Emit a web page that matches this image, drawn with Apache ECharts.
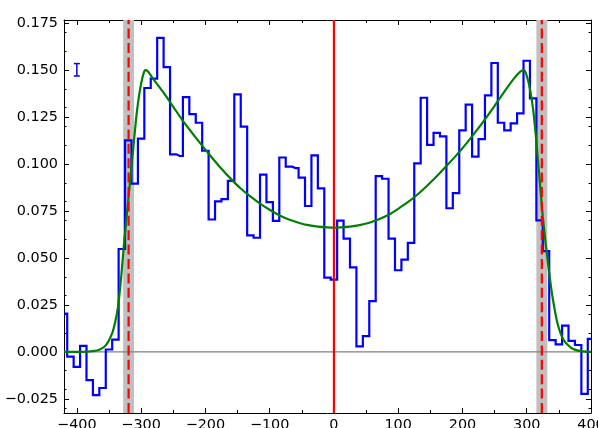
<!DOCTYPE html>
<html><head><meta charset="utf-8">
<script src="https://cdn.jsdelivr.net/npm/echarts@6/dist/echarts.min.js"></script>
<style>html,body{margin:0;padding:0;background:#fff}#c{width:598px;height:428px}</style>
</head><body><div id="c"></div>
<script>
// ---- data ----
const binCenters = [-420,-410,-400,-390,-380,-370,-360,-350,-340,-330,-320,-310,-300,-290,-280,-270,-260,-250,-240,-230,-220,-210,-200,-190,-180,-170,-160,-150,-140,-130,-120,-110,-100,-90,-80,-70,-60,-50,-40,-30,-20,-10,
  0,10,20,30,40,50,60,70,80,90,100,110,120,130,140,150,160,170,180,190,200,210,220,230,240,250,260,270,280,290,300,310,320,330,340,350,360,370,380,390,400];
const fluxValues = [0.0204,-0.0025,-0.0080,0.0032,-0.0150,-0.0230,-0.0192,0.0013,0.0066,0.0548,0.1126,0.0896,0.1136,0.1405,0.1455,0.1672,0.1516,0.1052,0.1043,0.1356,0.1266,0.1220,0.1071,0.0705,0.0802,0.0814,0.0911,0.1371,0.1199,0.0621,0.0608,0.0944,0.0798,0.0698,0.1035,0.0986,0.0979,0.0928,0.0777,0.1046,0.0871,0.0396,
  0.0385,0.0699,0.0603,0.0450,0.0030,0.0084,0.0271,0.0936,0.0922,0.0603,0.0435,0.0491,0.0581,0.1004,0.1353,0.1102,0.1166,0.1148,0.0765,0.0845,0.1179,0.1316,0.1040,0.1133,0.1366,0.1538,0.1220,0.1179,0.1217,0.1270,0.1550,0.1350,0.0700,0.0537,0.0063,0.0040,0.0140,0.0059,0.0037,-0.0223,0.0070];
const modelX = [-420,-400,-385,-375,-365,-355,-345,-340,-336,-331,-326,-322,-318,-313,-308,-303,-298,-294,-290,-280,-265,-250,-235,-220,-205,-190,-175,-160,-145,-130,-115,-100,-85,-70,-55,-40,-25,-10,0,
  10,25,40,55,70,85,100,115,130,145,160,175,190,205,220,235,250,265,280,290,296,300,305,310,315,320,325,330,335,340,348,358,370,385,400];
const modelY = [0,0,0.0001,0.0004,0.0012,0.0035,0.0100,0.0165,0.0240,0.0400,0.0600,0.0740,0.0880,0.1055,0.1235,0.1370,0.1460,0.1500,0.1495,0.1448,0.1380,0.1305,0.1230,0.1163,0.1098,0.1035,0.0975,0.0920,0.0870,0.0828,0.0790,0.0757,0.0728,0.0705,0.0688,0.0675,0.0667,0.0663,0.0662,
  0.0663,0.0667,0.0675,0.0688,0.0706,0.0730,0.0762,0.0797,0.0838,0.0885,0.0935,0.0990,0.1045,0.1105,0.1170,0.1238,0.1310,0.1385,0.1455,0.1492,0.1500,0.1470,0.1400,0.1290,0.1120,0.0920,0.0720,0.0560,0.0420,0.0295,0.0150,0.0060,0.0020,0.0004,0];
const centerLine = 0;
const edgeLines = [-319.5, 323.5];
const edgeBands = [[-328, -311], [315, 332]];
const errBar = {x: -400, y: 0.1502, err: 0.0033, cap: 4.7};
const xRange = [-420, 400];
const yRange = [-0.0325, 0.1767];
const xTicks = [-400,-300,-200,-100,0,100,200,300,400];
const xTickLabels = ['\u2212400','\u2212300','\u2212200','\u2212100','0','100','200','300','400'];
const xMinorTicks = [-350,-250,-150,-50,50,150,250,350];
const yTicks = [-0.025,0,0.025,0.05,0.075,0.1,0.125,0.15,0.175];
const yTickLabels = ['\u22120.025','0.000','0.025','0.050','0.075','0.100','0.125','0.150','0.175'];
const yMinorTicks = [-0.03,-0.02,-0.01,0.01,0.02,0.03,0.04,0.06,0.07,0.08,0.09,0.11,0.12,0.13,0.14,0.16,0.17];

// ---- chart ----
const FONT = 'DejaVu Sans';
const histData = binCenters.map((x, i) => [x, fluxValues[i]]);
const modelData = modelX.map((x, i) => [x, modelY[i]]);

function mkX(pos, ticks, len, showLine, labels) {
  return {
    type: 'value', position: pos, min: xRange[0], max: xRange[1],
    axisLine: {show: showLine, onZero: false, lineStyle: {color: '#000', width: 1}},
    axisTick: {show: true, inside: true, length: len, customValues: ticks, lineStyle: {color: '#000', width: 1}},
    axisLabel: labels ? {show: true, customValues: ticks, margin: 5, fontSize: 14.4, fontFamily: FONT, color: '#000',
      hideOverlap: false, alignMinLabel: 'center', alignMaxLabel: 'center',
      formatter: v => { const i = xTicks.indexOf(v); return i >= 0 ? xTickLabels[i] : ''; }} : {show: false},
    splitLine: {show: false}
  };
}
function mkY(pos, ticks, len, showLine, labels) {
  return {
    type: 'value', position: pos, min: yRange[0], max: yRange[1],
    axisLine: {show: showLine, onZero: false, lineStyle: {color: '#000', width: 1}},
    axisTick: {show: true, inside: true, length: len, customValues: ticks, lineStyle: {color: '#000', width: 1}},
    axisLabel: labels ? {show: true, customValues: ticks, margin: 6, fontSize: 14.4, fontFamily: FONT, color: '#000',
      formatter: v => { let i = yTicks.findIndex(t => Math.abs(t - v) < 1e-9); return i >= 0 ? yTickLabels[i] : ''; }} : {show: false},
    splitLine: {show: false}
  };
}

const chart = echarts.init(document.getElementById('c'), null, {renderer: 'canvas'});
chart.setOption({
  animation: false,
  backgroundColor: '#fff',
  grid: {left: 64, top: 20, width: 527, height: 393, containLabel: false, outerBoundsMode: 'none'},
  xAxis: [
    mkX('bottom', xTicks, 5, true, true),
    mkX('bottom', xMinorTicks, 3, false, false),
    mkX('top', xTicks, 5, true, false),
    mkX('top', xMinorTicks, 3, false, false)
  ],
  yAxis: [
    mkY('left', yTicks, 5, true, true),
    mkY('left', yMinorTicks, 2.5, false, false),
    mkY('right', yTicks, 5, true, false),
    mkY('right', yMinorTicks, 2.5, false, false)
  ],
  series: [
    {
      type: 'line', name: 'bands', z: 1, data: [], silent: true,
      markArea: {silent: true, itemStyle: {color: '#c0c0c0', opacity: 1},
        data: edgeBands.map(b => [{xAxis: b[0], yAxis: yRange[0]}, {xAxis: b[1], yAxis: yRange[1]}])}
    },
    {
      type: 'line', name: 'zero', z: 1, symbol: 'none', silent: true,
      data: [[xRange[0], 0], [xRange[1], 0]],
      lineStyle: {color: '#808080', width: 1.2}
    },
    {
      type: 'line', name: 'flux', z: 3, step: 'middle', symbol: 'none',
      data: histData, lineStyle: {color: '#0000ff', width: 2.2, join: 'miter'}
    },
    {
      type: 'line', name: 'model', z: 4, symbol: 'none', smooth: 0.2,
      data: modelData, lineStyle: {color: '#008000', width: 2.2}
    },
    {
      type: 'line', name: 'center', z: 5, symbol: 'none',
      data: [[centerLine, yRange[0]], [centerLine, yRange[1]]],
      lineStyle: {color: '#ff0000', width: 2.2}
    },
    ...edgeLines.map(x => ({
      type: 'line', z: 5, symbol: 'none',
      data: [[x, yRange[0]], [x, yRange[1]]],
      lineStyle: {color: '#ff0000', width: 2.2, type: [10, 4.4]}
    })),
    {
      type: 'custom', z: 5, data: [[errBar.x, errBar.y, errBar.err, errBar.cap]],
      renderItem: (params, api) => {
        const x = api.value(0), y = api.value(1), e = api.value(2), c = api.value(3);
        const top = api.coord([x, y + e]), bot = api.coord([x, y - e]);
        const l = api.coord([x - c, y]), r = api.coord([x + c, y]);
        const st = {stroke: '#0000ff', lineWidth: 1.5};
        return {type: 'group', children: [
          {type: 'line', shape: {x1: top[0], y1: top[1], x2: bot[0], y2: bot[1]}, style: st},
          {type: 'line', shape: {x1: l[0], y1: top[1], x2: r[0], y2: top[1]}, style: st},
          {type: 'line', shape: {x1: l[0], y1: bot[1], x2: r[0], y2: bot[1]}, style: st}
        ]};
      }
    }
  ]
});
</script></body></html>
